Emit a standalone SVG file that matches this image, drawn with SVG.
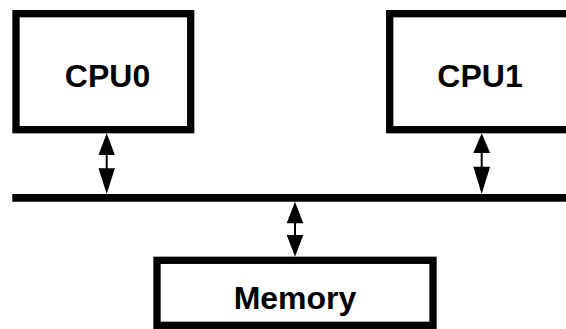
<svg xmlns="http://www.w3.org/2000/svg" width="566" height="329" viewBox="0 0 566 329">
<style>
.box{fill:#fff;stroke:#000;stroke-width:7.3}
.lbl{font-family:"Liberation Sans",Arial,sans-serif;font-weight:bold;font-size:32px;text-anchor:middle;fill:#000}
.shaft{stroke:#000;stroke-width:2}
.head{fill:#000}
</style>
<rect width="566" height="329" fill="#fff"/>
<g id="bus">
<line x1="12.3" y1="197.8" x2="566" y2="197.8" stroke="#000" stroke-width="7.7"/>
</g>
<g id="cpu0">
<rect class="box" x="16" y="13.7" width="174.7" height="116"/>
<text class="lbl" x="107.5" y="87.3">CPU0</text>
</g>
<g id="cpu1">
<rect class="box" x="389.7" y="13.7" width="200" height="116"/>
<text class="lbl" x="480" y="87.3">CPU1</text>
</g>
<g id="memory">
<rect class="box" x="157" y="260.3" width="276" height="65"/>
<text class="lbl" x="295" y="308.5">Memory</text>
</g>
<g id="connectors">
<line class="shaft" x1="106.7" y1="154" x2="106.7" y2="169"/>
<polygon class="head" points="106.7,133.3 98.5,155 114.9,155"/>
<polygon class="head" points="106.7,194 98.5,168.3 114.9,168.3"/>
<line class="shaft" x1="481.7" y1="152" x2="481.7" y2="168"/>
<polygon class="head" points="481.7,133.3 473.3,153 490.1,153"/>
<polygon class="head" points="481.7,194 473.3,166.7 490.1,166.7"/>
<line class="shaft" x1="295" y1="222" x2="295" y2="236"/>
<polygon class="head" points="295,201.7 286.7,223.3 303.3,223.3"/>
<polygon class="head" points="295,256.7 286.7,235 303.3,235"/>
</g>
</svg>
